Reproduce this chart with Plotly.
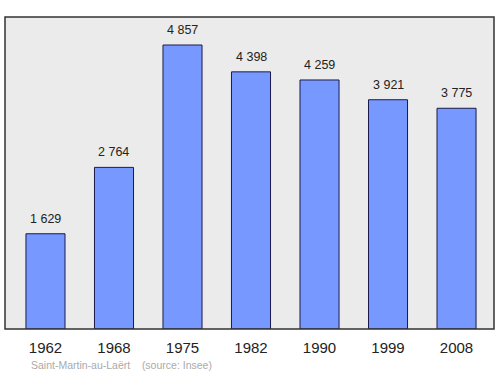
import plotly.graph_objects as go

years = ["1962", "1968", "1975", "1982", "1990", "1999", "2008"]
population = [1629, 2764, 4857, 4398, 4259, 3921, 3775]
labels = ["1 629", "2 764", "4 857", "4 398", "4 259", "3 921", "3 775"]

x_idx = list(range(len(years)))

fig = go.Figure()
fig.add_trace(go.Bar(
    x=x_idx, y=population, width=0.57,
    marker=dict(color="#7799ff", line=dict(color="#1a1a4a", width=1)),
    hoverinfo="skip",
))

annotations = [dict(x=i, y=v, text=t, xref="x", yref="y", showarrow=False,
                    yanchor="middle", yshift=15,
                    font=dict(family="Liberation Sans, Arial", size=12.5, color="#222222"))
               for i, v, t in zip(x_idx, population, labels)]
annotations.append(dict(text="Saint-Martin-au-Laërt    (source: Insee)", xref="paper", yref="paper",
                        x=0.05, y=-0.116, xanchor="left", yanchor="middle", showarrow=False,
                        font=dict(family="Liberation Sans, Arial", size=10.5, color="#aaaaaa")))

fig.update_layout(
    width=500, height=374,
    margin=dict(l=5, r=6, t=17, b=45),
    paper_bgcolor="white", plot_bgcolor="#ebebeb",
    showlegend=False,
    xaxis=dict(range=[-0.591, 6.547], tickmode="array", tickvals=x_idx, ticktext=years,
               showgrid=False, zeroline=False, ticks="", ticklabelstandoff=8,
               tickfont=dict(family="Liberation Sans, Arial", size=15, color="#222222")),
    yaxis=dict(range=[0, 5336], showgrid=False, zeroline=False, showticklabels=False, ticks=""),
    shapes=[dict(type="rect", xref="paper", yref="paper", x0=0, y0=0, x1=1, y1=1,
                 line=dict(color="#333333", width=1.5), layer="above")],
    annotations=annotations,
)
fig.write_html("out.html")
